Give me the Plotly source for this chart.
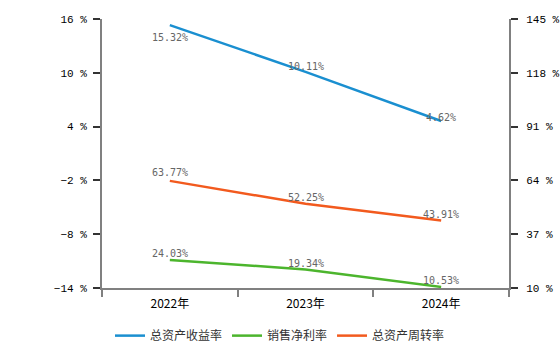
import plotly.graph_objects as go

years = ["2022年", "2023年", "2024年"]
roa = [15.32, 10.11, 4.62]          # 总资产收益率 (left axis)
net_margin = [24.03, 19.34, 10.53]  # 销售净利率 (right axis)
turnover = [63.77, 52.25, 43.91]    # 总资产周转率 (right axis)

names = ["总资产收益率", "销售净利率", "总资产周转率"]
colors = ["#1a8fd0", "#4cb52d", "#f25a1e"]
label_shift = [[-12, 5, 4], [7, 6, 6], [8, 6, 6]]

series = [(roa, "y"), (net_margin, "y2"), (turnover, "y2")]

fig = go.Figure()
annotations = []
for (vals, ax), name, col, shifts in zip(series, names, colors, label_shift):
    fig.add_trace(go.Scatter(x=years, y=vals, name=name, mode="lines",
                             yaxis=ax, line=dict(color=col, width=2.5)))
    for xv, yv, s in zip(years, vals, shifts):
        annotations.append(dict(x=xv, y=yv, xref="x", yref=ax, text=f"{yv:.2f}%",
                                showarrow=False, yshift=s,
                                font=dict(family="DejaVu Sans Mono", size=10, color="#666666")))

x_font = dict(family="Noto Sans CJK SC", size=12, color="#000000")
y_font = dict(family="Liberation Mono, Noto Sans CJK SC", size=11, color="#000000")
fig.update_layout(
    width=560, height=346,
    margin=dict(l=102, r=51, t=19, b=58, autoexpand=False),
    paper_bgcolor="white", plot_bgcolor="white",
    showlegend=True,
    legend=dict(orientation="h", xref="container", x=0.5, xanchor="center",
                yref="container", y=0.03, yanchor="middle",
                font=dict(family="Noto Sans CJK SC", size=12, color="#333333"),
                itemwidth=30, tracegroupgap=0),
    xaxis=dict(type="category", showline=True, linecolor="#808080", linewidth=2,
               ticks="outside", tickson="boundaries", ticklen=7, tickcolor="#808080",
               tickwidth=2, showgrid=False, tickfont=x_font, range=[-0.5, 2.5],
               ticklabelstandoff=4),
    yaxis=dict(range=[-14, 16], dtick=6, tick0=-14, showline=True, linecolor="#808080",
               linewidth=2, ticks="outside", ticklen=7, tickcolor="#333333", tickwidth=1.5,
               ticksuffix=" %", ticklabelstandoff=4, showgrid=False, zeroline=False,
               tickfont=y_font),
    yaxis2=dict(range=[10, 145], dtick=27, tick0=10, overlaying="y", side="right",
                showline=True, linecolor="#808080", linewidth=2, ticks="outside",
                ticklen=7, tickcolor="#333333", tickwidth=1.5, ticksuffix=" %",
                ticklabelstandoff=6, showgrid=False, zeroline=False, tickfont=y_font),
    annotations=annotations,
)

fig.write_html("out.html")
